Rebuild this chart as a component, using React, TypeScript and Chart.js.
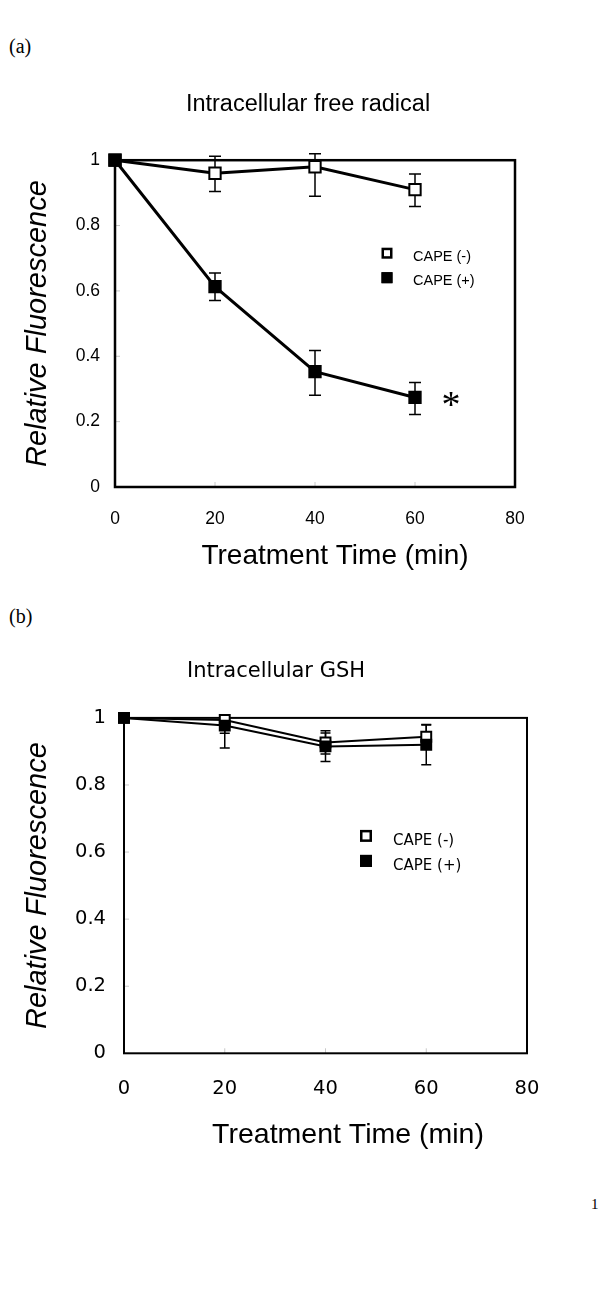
import React, { useEffect, useRef } from 'react';
import { Chart, registerables } from 'chart.js';

Chart.register(...registerables);

// ---------- data ----------
const timeMin = [0, 20, 40, 60];
const yTickLabels = ['0', '0.2', '0.4', '0.6', '0.8', '1'];
const seriesLabels = ['CAPE (-)', 'CAPE (+)'];
const yAxisTitle = 'Relative Fluorescence';
const xAxisTitle = 'Treatment Time (min)';

// (a) Intracellular free radical
const radicalTitle = 'Intracellular free radical';
const radicalMinus = [1.0, 0.96, 0.98, 0.91];
const radicalMinusErrUp = [0, 0.052, 0.04, 0.048];
const radicalMinusErrDown = [0, 0.056, 0.09, 0.052];
const radicalPlus = [1.0, 0.613, 0.353, 0.274];
const radicalPlusErrUp = [0, 0.042, 0.065, 0.046];
const radicalPlusErrDown = [0, 0.042, 0.072, 0.052];

// (b) Intracellular GSH
const gshTitle = 'Intracellular GSH';
const gshMinus = [1.0, 0.994, 0.927, 0.944];
const gshMinusErrUp = [0, 0.01, 0.035, 0.035];
const gshMinusErrDown = [0, 0.04, 0.035, 0.035];
const gshPlus = [1.0, 0.977, 0.915, 0.92];
const gshPlusErrUp = [0, 0.025, 0.04, 0.06];
const gshPlusErrDown = [0, 0.067, 0.045, 0.06];

// ---------- plugin ----------
const decorPlugin = {
  id: 'decor',
  beforeDatasetsDraw(chart: any, _args: any, o: any) {
    const { ctx, chartArea: a, scales } = chart;
    const xs = scales.x;
    const ys = scales.y;
    ctx.save();
    // inner tick marks
    ctx.strokeStyle = o.tickColor;
    ctx.lineWidth = 1;
    ys.ticks.forEach((t: any) => {
      const y = ys.getPixelForValue(t.value);
      ctx.beginPath();
      ctx.moveTo(a.left, y);
      ctx.lineTo(a.left + o.tickLen, y);
      ctx.stroke();
    });
    xs.ticks.forEach((t: any) => {
      const x = xs.getPixelForValue(t.value);
      ctx.beginPath();
      ctx.moveTo(x, a.bottom);
      ctx.lineTo(x, a.bottom - o.tickLen);
      ctx.stroke();
    });
    // frame
    ctx.strokeStyle = '#000';
    ctx.lineWidth = o.frameWidth;
    ctx.strokeRect(a.left, a.top, a.right - a.left, a.bottom - a.top);
    // error bars
    ctx.lineWidth = o.errWidth;
    chart.data.datasets.forEach((ds: any, i: number) => {
      const meta = chart.getDatasetMeta(i);
      meta.data.forEach((pt: any, j: number) => {
        const v = ds.data[j].y;
        const up = ds.errUp[j];
        const dn = ds.errDown[j];
        if (!up && !dn) return;
        const x = pt.x;
        const yt = ys.getPixelForValue(v + up);
        const yb = ys.getPixelForValue(v - dn);
        ctx.beginPath();
        ctx.moveTo(x, yt);
        ctx.lineTo(x, yb);
        ctx.moveTo(x - o.capHalf, yt);
        ctx.lineTo(x + o.capHalf, yt);
        ctx.moveTo(x - o.capHalf, yb);
        ctx.lineTo(x + o.capHalf, yb);
        ctx.stroke();
      });
    });
    ctx.restore();
  },
  afterDatasetsDraw(chart: any, _args: any, o: any) {
    const { ctx, chartArea: a } = chart;
    ctx.save();
    // legend
    const lg = o.legend;
    chart.data.datasets.forEach((ds: any, i: number) => {
      const cx = a.left + lg.dx;
      const cy = a.top + lg.dy + i * lg.gap;
      const s = lg.size;
      ctx.fillStyle = ds.pointBackgroundColor;
      ctx.fillRect(cx - s / 2, cy - s / 2, s, s);
      ctx.strokeStyle = '#000';
      ctx.lineWidth = lg.stroke;
      ctx.strokeRect(cx - s / 2 + lg.stroke / 2, cy - s / 2 + lg.stroke / 2, s - lg.stroke, s - lg.stroke);
      ctx.fillStyle = '#000';
      ctx.font = lg.font;
      ctx.textAlign = 'left';
      ctx.textBaseline = 'middle';
      ctx.fillText(ds.label, a.left + lg.textDx, cy + lg.textDy);
    });
    // x axis title
    const xt = o.xTitle;
    ctx.font = xt.font;
    ctx.fillStyle = '#000';
    ctx.textAlign = 'center';
    ctx.textBaseline = 'middle';
    ctx.fillText(xt.text, (a.left + a.right) / 2 + xt.dx, a.bottom + xt.dy);
    // significance mark
    if (o.mark) {
      const m = o.mark;
      const meta = chart.getDatasetMeta(m.dataset);
      const pt = meta.data[m.index];
      ctx.font = m.font;
      ctx.textAlign = 'center';
      ctx.textBaseline = 'alphabetic';
      ctx.fillText(m.text, pt.x + m.dx, pt.y + m.dy);
    }
    ctx.restore();
  },
};

function buildConfig(p: any) {
  const mk = (label: string, vals: number[], up: number[], dn: number[], fill: string, order: number) => ({
    label,
    data: timeMin.map((t, i) => ({ x: t, y: vals[i] })),
    errUp: up,
    errDown: dn,
    order,
    borderColor: '#000',
    borderWidth: p.lineWidth,
    pointStyle: 'rect',
    pointRadius: p.pointRadius,
    pointBorderWidth: p.pointBorder,
    pointBackgroundColor: fill,
    pointBorderColor: '#000',
    fill: false,
    tension: 0,
    clip: false,
  });
  return {
    type: 'line',
    data: {
      datasets: [
        mk(seriesLabels[0], p.minus, p.minusUp, p.minusDown, '#ffffff', 1),
        mk(seriesLabels[1], p.plus, p.plusUp, p.plusDown, '#000000', 0),
      ],
    },
    options: {
      responsive: false,
      animation: false,
      events: [],
      layout: { padding: 0 },
      plugins: {
        legend: { display: false },
        tooltip: { enabled: false },
        title: {
          display: true,
          text: p.title,
          color: '#000',
          font: p.titleFont,
          padding: p.titlePad,
        },
        decor: p.decor,
      },
      scales: {
        x: {
          type: 'linear',
          min: 0,
          max: 80,
          ticks: { stepSize: 20, color: '#000', font: p.tickFont, padding: 2, maxRotation: 0, autoSkip: false },
          grid: { display: false, drawTicks: true, tickLength: p.xTickGap },
          border: { display: false },
          afterFit: (s: any) => { s.height = p.xAxisHeight; },
        },
        y: {
          min: 0,
          max: 1,
          ticks: {
            stepSize: 0.2,
            color: '#000',
            font: p.tickFont,
            padding: p.yTickPad,
            callback: (_v: any, i: number) => yTickLabels[i],
          },
          grid: { display: false, drawTicks: false },
          border: { display: false },
          title: {
            display: true,
            text: yAxisTitle,
            color: '#000',
            font: p.yTitleFont,
            padding: { top: p.yTitlePad, bottom: 0 },
          },
          afterFit: (s: any) => { s.width = p.yAxisWidth; },
        },
        yRight: {
          position: 'right',
          display: true,
          ticks: { display: false },
          grid: { display: false, drawTicks: false },
          border: { display: false },
          afterFit: (s: any) => { s.width = p.rightGap; },
        },
      },
    },
    plugins: [decorPlugin],
  };
}

const SANS = "'Liberation Sans', Arial, sans-serif";
const WIDE = "'DejaVu Sans', Verdana, sans-serif";

const configA = {
  title: radicalTitle,
  titleFont: { family: SANS, size: 23.5, weight: 'normal', lineHeight: 1.2 },
  titlePad: { top: 40, bottom: 42 },
  minus: radicalMinus, minusUp: radicalMinusErrUp, minusDown: radicalMinusErrDown,
  plus: radicalPlus, plusUp: radicalPlusErrUp, plusDown: radicalPlusErrDown,
  lineWidth: 3,
  pointRadius: 8,
  pointBorder: 2,
  tickFont: { family: SANS, size: 17.5 },
  xTickGap: 20,
  yTickPad: 15,
  xAxisHeight: 103,
  yAxisWidth: 99,
  rightGap: 85,
  yTitleFont: { family: SANS, size: 29, style: 'italic', lineHeight: 1.2 },
  yTitlePad: 4.6,
  decor: {
    tickColor: '#c8c8c8',
    tickLen: 5,
    frameWidth: 2.5,
    errWidth: 1.5,
    capHalf: 6,
    legend: { dx: 272, dy: 93, gap: 24.5, size: 11, stroke: 2.5, font: `14.5px ${SANS}`, textDx: 298, textDy: 3.5 },
    xTitle: { text: xAxisTitle, font: `28px ${SANS}`, dx: 20, dy: 69 },
    mark: { text: '*', font: `38px 'Liberation Serif', 'Times New Roman', serif`, dataset: 1, index: 3, dx: 36, dy: 20 },
  },
};

const configB = {
  title: gshTitle,
  titleFont: { family: WIDE, size: 21, weight: 'normal', lineHeight: 1.2 },
  titlePad: { top: 39.4, bottom: 33.3 },
  minus: gshMinus, minusUp: gshMinusErrUp, minusDown: gshMinusErrDown,
  plus: gshPlus, plusUp: gshPlusErrUp, plusDown: gshPlusErrDown,
  lineWidth: 2,
  pointRadius: 7,
  pointBorder: 2,
  tickFont: { family: WIDE, size: 19.5 },
  xTickGap: 22,
  yTickPad: 18,
  xAxisHeight: 126.7,
  yAxisWidth: 124,
  rightGap: 25,
  yTitleFont: { family: SANS, size: 29, style: 'italic', lineHeight: 1.2 },
  yTitlePad: 20.6,
  decor: {
    tickColor: '#c8c8c8',
    tickLen: 5,
    frameWidth: 2,
    errWidth: 1.5,
    capHalf: 5,
    legend: { dx: 242, dy: 118, gap: 25, size: 12, stroke: 2.5, font: `15px ${WIDE}`, textDx: 269, textDy: 5 },
    xTitle: { text: xAxisTitle, font: `28.5px ${SANS}`, dx: 22.5, dy: 82 },
    mark: null,
  },
};

function ChartBox({ cfg, left, top, width, height }: any) {
  const ref = useRef<HTMLCanvasElement | null>(null);
  useEffect(() => {
    if (!ref.current) return;
    const chart = new Chart(ref.current, buildConfig(cfg) as any);
    return () => chart.destroy();
  }, [cfg]);
  return (
    <canvas
      ref={ref}
      width={width}
      height={height}
      style={{ position: 'absolute', left, top, width, height }}
    />
  );
}

const serifText: React.CSSProperties = {
  position: 'absolute',
  fontFamily: "'Liberation Serif', 'Times New Roman', serif",
  color: '#000',
  lineHeight: 1,
  whiteSpace: 'nowrap',
};

export default function App() {
  return (
    <div style={{ position: 'absolute', left: 0, top: 0, width: 600, height: 1301, background: '#fff', overflow: 'hidden' }}>
      <div style={{ ...serifText, left: 9, top: 36, fontSize: 20 }}>(a)</div>
      <ChartBox cfg={configA} left={16} top={50} width={584} height={540} />
      <div style={{ ...serifText, left: 9, top: 606, fontSize: 20 }}>(b)</div>
      <ChartBox cfg={configB} left={0} top={620} width={552} height={560} />
      <div style={{ ...serifText, left: 591, top: 1197, fontSize: 15 }}>1</div>
    </div>
  );
}
